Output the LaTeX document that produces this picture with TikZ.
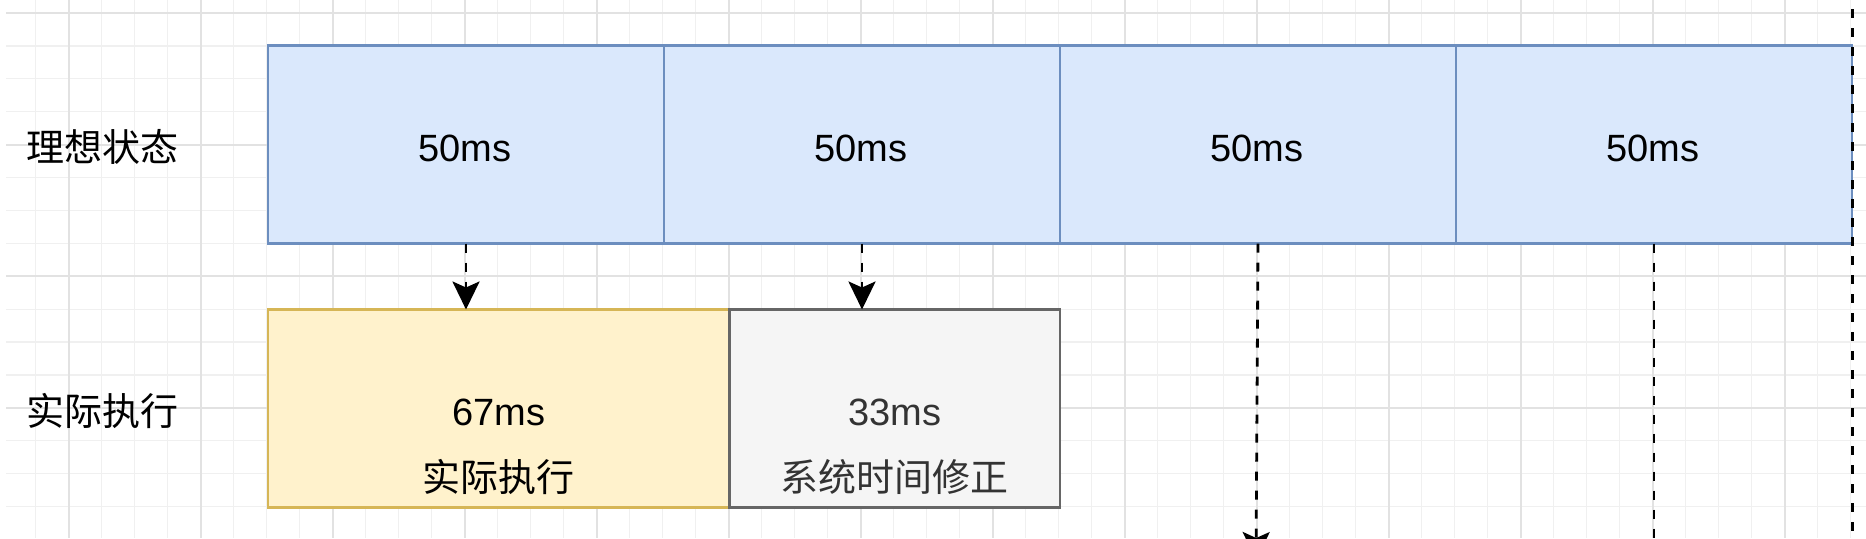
\documentclass[tikz,border=0pt]{standalone}
\usepackage{fontspec}
\setmainfont{Liberation Sans}
\newfontfamily\cjk{Noto Sans CJK SC}
\usetikzlibrary{arrows.meta}
\definecolor{bluefill}{HTML}{DAE8FC}
\definecolor{bluedraw}{HTML}{6C8EBF}
\definecolor{yelfill}{HTML}{FFF2CC}
\definecolor{yeldraw}{HTML}{D6B656}
\definecolor{grayfill}{HTML}{F5F5F5}
\definecolor{graydraw}{HTML}{666666}
\definecolor{graytext}{HTML}{333333}
\definecolor{gridminor}{HTML}{F0F0F0}
\definecolor{gridmajor}{HTML}{E2E2E2}
\tikzset{
  minorline/.style={draw=gridminor, line width=0.6pt},
  majorline/.style={draw=gridmajor, line width=1pt},
  txt/.style={font=\fontsize{19pt}{23pt}\selectfont, inner sep=0pt},
  cjktxt/.style={font=\fontsize{19pt}{23pt}\selectfont\cjk, inner sep=0pt},
  slot/.style={draw=bluedraw, fill=bluefill, line width=1.3pt, minimum width=198pt, minimum height=99pt, inner sep=0pt, outer sep=0pt, anchor=north west},
  execbox/.style={draw=yeldraw, fill=yelfill, line width=1.3pt, minimum width=230.75pt, minimum height=99pt, inner sep=0pt, outer sep=0pt, anchor=north west},
  fixbox/.style={draw=graydraw, fill=grayfill, line width=1.3pt, minimum width=165.25pt, minimum height=99pt, inner sep=0pt, outer sep=0pt, anchor=north west},
  dashlink/.style={draw=black, line width=1.4pt, dash pattern=on 4.5pt off 5pt},
  headed/.style={-{Stealth[length=14pt, width=13.5pt, inset=3pt]}}
}
\begin{document}
\begin{tikzpicture}[x=0.5pt, y=-0.5pt]
\useasboundingbox (0,0) rectangle (1866,538);
\clip (0,0) rectangle (1866,538);
\fill[white] (0,0) rectangle (1866,538);
% grid
\foreach \i in {0,...,55} { \draw[minorline] ({35.6+33*\i},0) -- ({35.6+33*\i},538); }
\foreach \k in {0,...,15} { \draw[minorline] (6,{13+32.9*\k}) -- (1866,{13+32.9*\k}); }
\foreach \i in {0,...,13} { \draw[majorline] ({68.6+132*\i},0) -- ({68.6+132*\i},538); }
\foreach \k in {0,...,3} { \draw[majorline] (6,{13+131.6*\k}) -- (1866,{13+131.6*\k}); }

% row labels
\node[cjktxt, anchor=west] (lblideal) at (26,147) {理想状态};
\node[cjktxt, anchor=west] (lblactual) at (26,411) {实际执行};

% ideal slots
\node[slot] (b1) at (268,45.5) {};
\node[slot] (b2) at (664,45.5) {};
\node[slot] (b3) at (1060,45.5) {};
\node[slot] (b4) at (1456,45.5) {};
\node[txt] (t1) at (465,148) {50ms};
\node[txt] (t2) at (861,148) {50ms};
\node[txt] (t3) at (1257,148) {50ms};
\node[txt] (t4) at (1653,148) {50ms};

% actual execution
\node[execbox] (y1) at (268,309.5) {};
\node[fixbox] (g1) at (729.5,309.5) {};
\node[txt] (y1a) at (498.7,412) {67ms};
\node[cjktxt] (y1b) at (498.7,477) {实际执行};
\node[txt, text=graytext] (g1a) at (894.7,412) {33ms};
\node[cjktxt, text=graytext] (g1b) at (894.7,476.5) {系统时间修正};

% connectors
\coordinate (e3) at (1256,560);
\coordinate (e4) at (1654,560);
\coordinate (r1) at (1852.7,-10);
\coordinate (r2) at (1852.7,560);
\draw[dashlink, headed] (b1.south) -- (b1.south |- y1.north);
\draw[dashlink, headed] (b2.south) -- (b2.south |- g1.north);
\draw[dashlink, headed] (b3.south) -- (e3);
\draw[dashlink] (b4.south) -- (e4);
\draw[dashlink] (r1) -- (r2);
\end{tikzpicture}
\end{document}
